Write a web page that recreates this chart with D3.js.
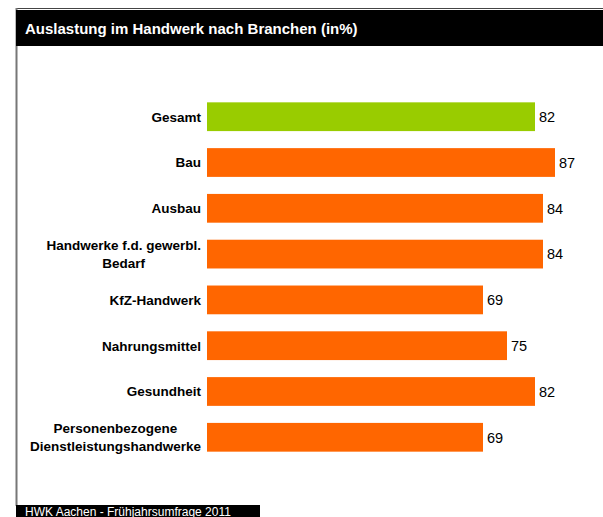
<!DOCTYPE html>
<html>
<head>
<meta charset="utf-8">
<script src="https://cdn.jsdelivr.net/npm/d3@7"></script>
<style>
  body { margin: 0; background: #fff; }
  text { font-family: "Liberation Sans", Arial, sans-serif; }
</style>
</head>
<body>
<div id="chart"></div>
<script>
var width = 603;
var height = 517;

// data
var categories = [
    "Gesamt",
    "Bau",
    "Ausbau",
    "Handwerke f.d. gewerbl.\nBedarf",
    "KfZ-Handwerk",
    "Nahrungsmittel",
    "Gesundheit",
    "Personenbezogene\nDienstleistungshandwerke"
];
var values = [82, 87, 84, 84, 69, 75, 82, 69];
var totalCategory = "Gesamt";

var title = "Auslastung im Handwerk nach Branchen (in%)";
var source = "HWK Aachen - Frühjahrsumfrage 2011";

var data = categories.map(function(c, i) { return { name: c, value: values[i] }; });

var svg = d3.select("#chart").append("svg")
    .attr("width", width)
    .attr("height", height);

// frame: top and left grey rules
svg.append("line")
    .attr("x1", 16).attr("x2", width)
    .attr("y1", 8.5).attr("y2", 8.5)
    .style("stroke", "#444").style("stroke-width", 1);
svg.append("line")
    .attr("x1", 16.5).attr("x2", 16.5)
    .attr("y1", 8).attr("y2", 506)
    .style("stroke", "#777").style("stroke-width", 2);

// title bar
svg.append("rect")
    .attr("x", 16).attr("y", 10)
    .attr("width", width - 16).attr("height", 36)
    .style("fill", "#000");
svg.append("text")
    .attr("x", 25).attr("y", 29)
    .attr("dy", "0.35em")
    .style("fill", "#fff")
    .style("font-weight", "bold")
    .style("font-size", "15px")
    .text(title);

// scales
var x = d3.scaleLinear()
    .domain([0, 100])
    .range([207, 607]);

var y = d3.scaleBand()
    .domain(categories)
    .range([85.3, 468.7])
    .padding(0.372);

var g = svg.append("g").attr("class", "bars");

g.selectAll("rect")
    .data(data)
    .enter().append("rect")
    .attr("x", x(0))
    .attr("y", function(d) { return y(d.name); })
    .attr("width", function(d) { return x(d.value) - x(0); })
    .attr("height", y.bandwidth())
    .style("fill", function(d) { return d.name == totalCategory ? "#99CC00" : "#FF6600"; });

// value labels
g.selectAll("text.value")
    .data(data)
    .enter().append("text")
    .attr("class", "value")
    .attr("x", function(d) { return x(d.value) + 4; })
    .attr("y", function(d) { return y(d.name) + y.bandwidth() / 2; })
    .attr("dy", "0.36em")
    .style("font-size", "14.5px")
    .style("fill", "#000")
    .text(function(d) { return d.value; });

// category labels; two-line ones are centred within their block,
// the block itself is right-aligned against the bars
var labelRight = 201;
var lineH = 18;

var labels = g.selectAll("text.cat")
    .data(data)
    .enter().append("text")
    .attr("class", "cat")
    .attr("text-anchor", "middle")
    .style("font-weight", "bold")
    .style("font-size", "13.5px")
    .style("fill", "#000");

labels.each(function(d) {
    var lines = d.name.split("\n");
    var cy = y(d.name) + y.bandwidth() / 2;
    var t = d3.select(this);
    var spans = lines.map(function(l, i) {
        return t.append("tspan")
            .attr("y", cy + (i - (lines.length - 1) / 2) * lineH)
            .attr("dy", "0.36em")
            .text(l);
    });
    var maxW = d3.max(spans, function(s) { return s.node().getComputedTextLength(); });
    spans.forEach(function(s) { s.attr("x", labelRight - maxW / 2); });
});

// source box
svg.append("rect")
    .attr("x", 16).attr("y", 505)
    .attr("width", 244).attr("height", 14)
    .style("fill", "#000");
svg.append("text")
    .attr("x", 25).attr("y", 515.5)
    .style("fill", "#fff")
    .style("font-size", "12px")
    .text(source);
</script>
</body>
</html>
